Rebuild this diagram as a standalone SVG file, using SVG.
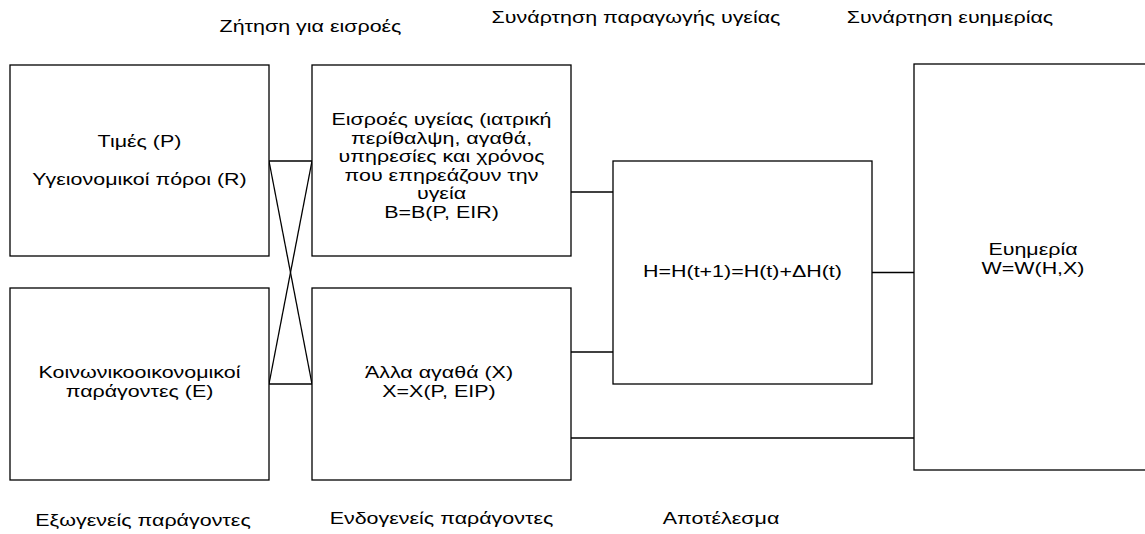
<svg xmlns="http://www.w3.org/2000/svg" width="1145" height="534" viewBox="0 0 1145 534">
<style>
.box{fill:#fff;stroke:#000;stroke-width:1.3}
.ln{stroke:#000;stroke-width:1.3;fill:none}
text{font-family:"Liberation Sans",Arial,sans-serif;font-size:16.5px;fill:#000;text-anchor:middle}
</style>
<rect width="1145" height="534" fill="#fff"/>
<g id="labels">
<text transform="translate(310.5,0) scale(1.3,1)" y="32">Ζήτηση για εισροές</text>
<text transform="translate(636,0) scale(1.3,1)" y="23">Συνάρτηση παραγωγής υγείας</text>
<text transform="translate(950,0) scale(1.3,1)" y="23">Συνάρτηση ευημερίας</text>
<text transform="translate(143,0) scale(1.3,1)" y="526">Εξωγενείς παράγοντες</text>
<text transform="translate(441.5,0) scale(1.3,1)" y="524">Ενδογενείς παράγοντες</text>
<text transform="translate(721,0) scale(1.3,1)" y="524">Αποτέλεσμα</text>
</g>
<g id="connectors">
<line class="ln" x1="269" y1="161" x2="312" y2="161"/>
<line class="ln" x1="269" y1="161" x2="312" y2="384"/>
<line class="ln" x1="312" y1="161" x2="269" y2="384"/>
<line class="ln" x1="269" y1="384" x2="312" y2="384"/>
<line class="ln" x1="571" y1="192" x2="613" y2="192"/>
<line class="ln" x1="571" y1="352" x2="613" y2="352"/>
<line class="ln" x1="872" y1="272.5" x2="914" y2="272.5"/>
<line class="ln" x1="571" y1="438" x2="914" y2="438"/>
</g>
<g id="prices">
<rect class="box" x="10" y="65" width="259" height="191"/>
<text transform="translate(139.5,0) scale(1.3,1)" y="147.5">Τιμές (P)</text>
<text transform="translate(139.5,0) scale(1.3,1)" y="185.5">Υγειονομικοί πόροι (R)</text>
</g>
<g id="health-inputs">
<rect class="box" x="312" y="65" width="259" height="191"/>
<text transform="translate(441.5,0) scale(1.3,1)" y="125">Εισροές υγείας (ιατρική</text>
<text transform="translate(441.5,0) scale(1.3,1)" y="143.6">περίθαλψη, αγαθά,</text>
<text transform="translate(441.5,0) scale(1.3,1)" y="162.2">υπηρεσίες και χρόνος</text>
<text transform="translate(441.5,0) scale(1.3,1)" y="180.8">που επηρεάζουν την</text>
<text transform="translate(441.5,0) scale(1.3,1)" y="199.4">υγεία</text>
<text transform="translate(441.5,0) scale(1.3,1)" y="218">B=B(P, EIR)</text>
</g>
<g id="socioeconomic">
<rect class="box" x="10" y="288" width="259" height="192"/>
<text transform="translate(139.5,0) scale(1.3,1)" y="378">Κοινωνικοοικονομικοί</text>
<text transform="translate(139.5,0) scale(1.3,1)" y="397">παράγοντες (Ε)</text>
</g>
<g id="other-goods">
<rect class="box" x="312" y="288" width="259" height="192"/>
<text transform="translate(439,0) scale(1.3,1)" y="378">Άλλα αγαθά (X)</text>
<text transform="translate(439,0) scale(1.3,1)" y="397">X=X(P, EIP)</text>
</g>
<g id="health">
<rect class="box" x="613" y="161" width="259" height="223"/>
<text transform="translate(742.5,0) scale(1.3,1)" y="277.5">H=H(t+1)=H(t)+ΔH(t)</text>
</g>
<g id="welfare">
<rect class="box" x="914" y="64" width="240" height="406"/>
<text transform="translate(1033,0) scale(1.3,1)" y="255">Ευημερία</text>
<text transform="translate(1033,0) scale(1.3,1)" y="274">W=W(H,X)</text>
</g>
</svg>
